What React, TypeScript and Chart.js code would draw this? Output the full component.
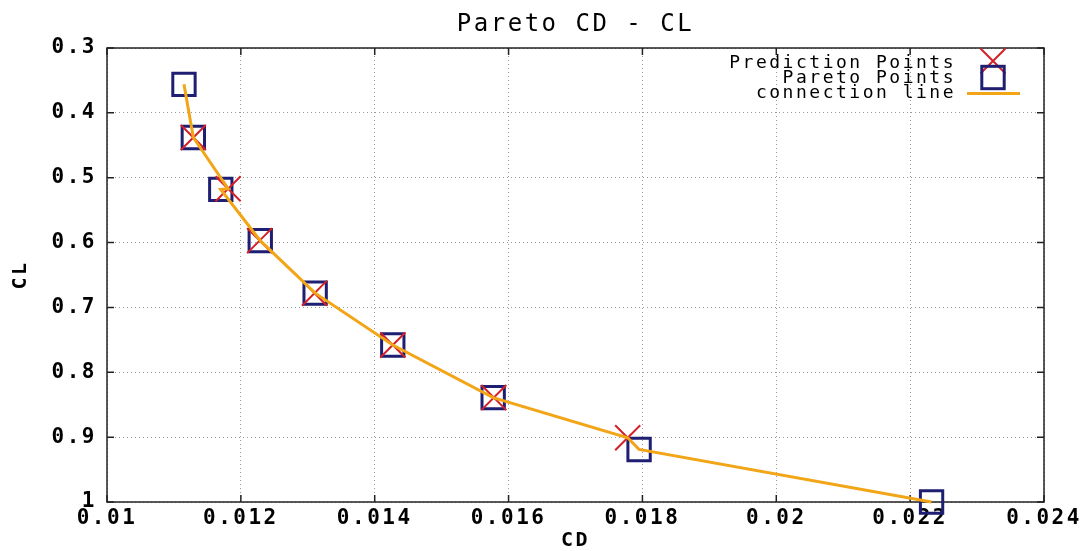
import React, { useEffect, useRef } from "react";
import { Chart, registerables } from "chart.js";

Chart.register(...registerables);

// Pareto front: drag coefficient vs. lift coefficient
const paretoCD = [0.01115, 0.01129, 0.0117, 0.01229, 0.01311, 0.01427, 0.01577, 0.01795, 0.02232];
const paretoCL = [0.356, 0.438, 0.518, 0.597, 0.678, 0.758, 0.839, 0.919, 1.0];

const predictionCD = [0.01129, 0.01181, 0.01228, 0.0131, 0.01427, 0.01578, 0.01778];
const predictionCL = [0.438, 0.517, 0.597, 0.678, 0.758, 0.839, 0.901];

// polyline through the points, ordered by CL
const connectionCD = [0.01115, 0.01129, 0.01181, 0.0117, 0.01229, 0.01311, 0.01427, 0.01577, 0.01778, 0.01795, 0.02232];
const connectionCL = [0.356, 0.438, 0.517, 0.518, 0.597, 0.678, 0.758, 0.839, 0.901, 0.919, 1.0];

const xTicks = [0.01, 0.012, 0.014, 0.016, 0.018, 0.02, 0.022, 0.024];
const yTicks = [0.3, 0.4, 0.5, 0.6, 0.7, 0.8, 0.9, 1];

const legendLabels = ["Prediction Points", "Pareto Points", "connection line"];

const MONO = "'DejaVu Sans Mono', 'Liberation Mono', monospace";
const NAVY = "#1e1e72";
const RED = "#d42028";
const ORANGE = "#f2a516";
const SPACING = "2.5px";

const toPoints = (xs: number[], ys: number[]) => xs.map((x, i) => ({ x, y: ys[i] }));
const fmt = (v: number) => String(+Number(v).toFixed(4));

// wide, terminal-style lettering for every text item
const spacingPlugin = {
  id: "letterSpacing",
  beforeUpdate(chart: any) {
    chart.ctx.letterSpacing = SPACING;
  },
  beforeDraw(chart: any) {
    chart.ctx.letterSpacing = SPACING;
  },
};

// plot frame with inward tick marks on all four sides
const framePlugin = {
  id: "frame",
  beforeDatasetsDraw(chart: any) {
    const { ctx, chartArea: a, scales } = chart;
    const len = 7;
    ctx.save();
    ctx.strokeStyle = "#222";
    ctx.lineWidth = 1.5;
    ctx.setLineDash([]);
    ctx.beginPath();
    for (const v of xTicks) {
      const px = scales.x.getPixelForValue(v);
      ctx.moveTo(px, a.bottom);
      ctx.lineTo(px, a.bottom - len);
      ctx.moveTo(px, a.top);
      ctx.lineTo(px, a.top + len);
    }
    for (const v of yTicks) {
      const py = scales.y.getPixelForValue(v);
      ctx.moveTo(a.left, py);
      ctx.lineTo(a.left + len, py);
      ctx.moveTo(a.right, py);
      ctx.lineTo(a.right - len, py);
    }
    ctx.stroke();
    ctx.strokeRect(a.left, a.top, a.right - a.left, a.bottom - a.top);
    ctx.restore();
  },
};

// key in the upper right corner: text right-aligned, sample to its right
const keyPlugin = {
  id: "key",
  afterDraw(chart: any) {
    const { ctx, chartArea: a } = chart;
    const textRight = a.right - 88;
    const symX = a.right - 51;
    const rowY = [a.top + 20, a.top + 35, a.top + 50];
    ctx.save();
    ctx.letterSpacing = SPACING;
    ctx.font = `18px ${MONO}`;
    ctx.fillStyle = "#000";
    ctx.textAlign = "right";
    ctx.textBaseline = "alphabetic";
    legendLabels.forEach((t, i) => ctx.fillText(t, textRight, rowY[i]));

    // cross
    const cy = a.top + 13;
    ctx.strokeStyle = RED;
    ctx.lineWidth = 2;
    ctx.beginPath();
    ctx.moveTo(symX - 12.5, cy - 12.5);
    ctx.lineTo(symX + 12.5, cy + 12.5);
    ctx.moveTo(symX + 12.5, cy - 12.5);
    ctx.lineTo(symX - 12.5, cy + 12.5);
    ctx.stroke();

    // square
    const sy = a.top + 29.5;
    ctx.strokeStyle = NAVY;
    ctx.lineWidth = 3;
    ctx.strokeRect(symX - 11.2, sy - 11.2, 22.4, 22.4);

    // line
    ctx.strokeStyle = ORANGE;
    ctx.lineWidth = 3;
    ctx.beginPath();
    ctx.moveTo(symX - 26, a.top + 45.5);
    ctx.lineTo(symX + 27, a.top + 45.5);
    ctx.stroke();
    ctx.restore();
  },
};

export default function App() {
  const canvasRef = useRef<HTMLCanvasElement | null>(null);

  useEffect(() => {
    if (!canvasRef.current) return;
    const chart = new Chart(canvasRef.current, {
      type: "scatter",
      data: {
        datasets: [
          {
            label: legendLabels[2],
            data: toPoints(connectionCD, connectionCL),
            showLine: true,
            borderColor: ORANGE,
            borderWidth: 3,
            pointRadius: 0,
            tension: 0,
            clip: false as any,
            order: 0,
          },
          {
            label: legendLabels[0],
            data: toPoints(predictionCD, predictionCL),
            pointStyle: "crossRot",
            pointRadius: 17.7,
            borderColor: RED,
            backgroundColor: "rgba(0,0,0,0)",
            pointBorderWidth: 2,
            clip: false as any,
            order: 1,
          },
          {
            label: legendLabels[1],
            data: toPoints(paretoCD, paretoCL),
            pointStyle: "rect",
            pointRadius: 15.8,
            borderColor: NAVY,
            backgroundColor: "rgba(0,0,0,0)",
            pointBorderWidth: 3,
            clip: false as any,
            order: 2,
          },
        ],
      },
      options: {
        animation: false,
        responsive: true,
        maintainAspectRatio: false,
        events: [],
        layout: { padding: { left: 0, right: 45, top: 0, bottom: 0 } },
        plugins: {
          legend: { display: false },
          tooltip: { enabled: false },
          title: {
            display: true,
            text: "Pareto CD - CL",
            fullSize: false,
            color: "#000",
            font: { family: MONO, size: 24, weight: "normal" as any },
            padding: { top: 10, bottom: 9.2 },
          },
        },
        scales: {
          x: {
            type: "linear",
            position: "bottom",
            min: 0.01,
            max: 0.024,
            afterBuildTicks: (s: any) => {
              s.ticks = xTicks.map((value) => ({ value }));
            },
            afterFit: (s: any) => {
              s.height = 49;
            },
            ticks: {
              color: "#000",
              padding: 4,
              maxRotation: 0,
              autoSkip: false,
              font: { family: MONO, size: 21, weight: "bold" as any },
              callback: (v: any) => fmt(v),
            },
            grid: { color: "#9a9a9a", lineWidth: 1, drawTicks: false },
            border: { display: false, dash: [1, 3] },
            title: {
              display: true,
              text: "CD",
              color: "#000",
              font: { family: MONO, size: 20, weight: "bold" as any, lineHeight: 1 },
              padding: { top: 0, bottom: 0 },
            },
          },
          y: {
            type: "linear",
            position: "left",
            reverse: true,
            min: 0.3,
            max: 1,
            afterBuildTicks: (s: any) => {
              s.ticks = yTicks.map((value) => ({ value }));
            },
            afterFit: (s: any) => {
              s.width = 107;
            },
            ticks: {
              color: "#000",
              padding: 10,
              autoSkip: false,
              font: { family: MONO, size: 21, weight: "bold" as any },
              callback: (v: any) => fmt(v),
            },
            grid: { color: "#9a9a9a", lineWidth: 1, drawTicks: false },
            border: { display: false, dash: [1, 3] },
            title: {
              display: true,
              text: "CL",
              color: "#000",
              font: { family: MONO, size: 20, weight: "bold" as any, lineHeight: 1 },
              padding: { top: 11, bottom: 0 },
            },
          },
        },
      },
      plugins: [spacingPlugin, framePlugin, keyPlugin],
    });
    return () => chart.destroy();
  }, []);

  return (
    <div style={{ position: "fixed", left: 0, top: 0, width: 1089, height: 551, background: "#fff" }}>
      <canvas ref={canvasRef} />
    </div>
  );
}
